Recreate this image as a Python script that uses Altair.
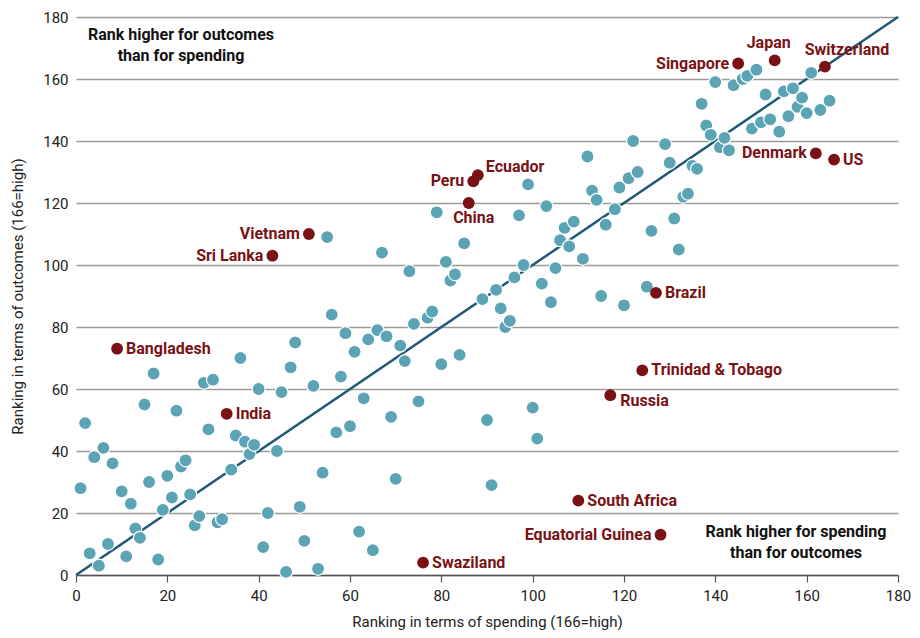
import altair as alt
import pandas as pd

# Teal points: (spending rank, outcomes rank)
teal_x = [1, 2, 3, 4, 5, 6, 7, 8, 10, 11, 12, 13, 14, 15, 16, 17, 18, 19, 20, 21, 22, 23, 24, 25, 26, 27, 28, 29, 30, 31, 32,
          34, 35, 36, 37, 38, 39, 40, 41, 42, 44, 45, 46, 47, 48, 49, 50, 52, 53, 54, 55, 56, 57, 58, 59, 60, 61, 62, 63, 64,
          65, 66, 67, 68, 69, 70, 71, 72, 73, 74, 75, 77, 78, 79, 80, 81, 82, 83, 84, 85, 89, 90, 91, 92, 93, 94, 95, 96, 97,
          98, 99, 100, 101, 102, 103, 104, 105, 106, 107, 108, 109, 111, 112, 113, 114, 115, 116, 118, 119, 120, 121, 122,
          123, 125, 126, 129, 130, 131, 132, 133, 134, 135, 136, 137, 138, 139, 140, 141, 142, 143, 144, 146, 147, 148, 149,
          150, 151, 152, 154, 155, 156, 157, 158, 159, 160, 161, 163, 165]
teal_y = [28, 49, 7, 38, 3, 41, 10, 36, 27, 6, 23, 15, 12, 55, 30, 65, 5, 21, 32, 25, 53, 35, 37, 26, 16, 19, 62, 47, 63, 17, 18,
          34, 45, 70, 43, 39, 42, 60, 9, 20, 40, 59, 1, 67, 75, 22, 11, 61, 2, 33, 109, 84, 46, 64, 78, 48, 72, 14, 57, 76,
          8, 79, 104, 77, 51, 31, 74, 69, 98, 81, 56, 83, 85, 117, 68, 101, 95, 97, 71, 107, 89, 50, 29, 92, 86, 80, 82, 96, 116,
          100, 126, 54, 44, 94, 119, 88, 99, 108, 112, 106, 114, 102, 135, 124, 121, 90, 113, 118, 125, 87, 128, 140,
          130, 93, 111, 139, 133, 115, 105, 122, 123, 132, 131, 152, 145, 142, 159, 138, 141, 137, 158, 160, 161, 144, 163,
          146, 155, 147, 143, 156, 148, 157, 151, 154, 149, 162, 150, 153]

# Highlighted countries
red_names = ["Bangladesh", "India", "Sri Lanka", "Vietnam", "Peru", "Ecuador", "China", "Swaziland", "South Africa",
             "Equatorial Guinea", "Russia", "Trinidad & Tobago", "Brazil", "Singapore", "Japan", "Switzerland",
             "Denmark", "US"]
red_x = [9, 33, 43, 51, 87, 88, 86, 76, 110, 128, 117, 124, 127, 145, 153, 164, 162, 166]
red_y = [73, 52, 103, 110, 127, 129, 120, 4, 24, 13, 58, 66, 91, 165, 166, 164, 136, 134]

diag_x = [0, 180]
diag_y = [0, 180]
ticks = [0, 20, 40, 60, 80, 100, 120, 140, 160, 180]

ann_top = ["Rank higher for outcomes", "than for spending"]
ann_bottom = ["Rank higher for spending", "than for outcomes"]

FONT = "Roboto, sans-serif"
TEAL = "#5ba4b5"
RED = "#7a1114"
LINE = "#1d5a78"

teal_df = pd.DataFrame({"x": teal_x, "y": teal_y})
red_df = pd.DataFrame({"name": red_names, "x": red_x, "y": red_y})
diag_df = pd.DataFrame({"x": [diag_x[0]], "y": [diag_y[0]], "x2": [diag_x[1]], "y2": [diag_y[1]]})
one_df = pd.DataFrame({"k": [0]})

xs = alt.Scale(domain=[0, 180], nice=False)
ys = alt.Scale(domain=[0, 180], nice=False)

x_axis = alt.Axis(values=ticks, grid=False, domain=True, domainColor="#555555", domainWidth=1.5,
                  ticks=True, tickSize=7, tickColor="#555555", tickWidth=1.2, labelFont=FONT, labelFontSize=15,
                  labelColor="#222222", labelPadding=6, labelFlush=False,
                  title="Ranking in terms of spending (166=high)",
                  titleFont=FONT, titleFontSize=15, titleFontWeight="normal", titleColor="#222222", titlePadding=11)
y_axis = alt.Axis(values=ticks, grid=True, gridColor="#9a9a9a", gridWidth=1.5, domain=False, ticks=False,
                  labelFont=FONT, labelFontSize=15, labelColor="#222222", labelPadding=8, labelFlush=False,
                  title="Ranking in terms of outcomes (166=high)", titleFont=FONT, titleFontSize=15,
                  titleFontWeight="normal", titleColor="#222222", titlePadding=17)

base_axes = alt.Chart(teal_df).mark_point(opacity=0).encode(
    x=alt.X("x:Q", scale=xs, axis=x_axis),
    y=alt.Y("y:Q", scale=ys, axis=y_axis),
)

diag = alt.Chart(diag_df).mark_rule(color=LINE, strokeWidth=2.5).encode(
    x=alt.X("x:Q", scale=xs), y=alt.Y("y:Q", scale=ys), x2="x2:Q", y2="y2:Q"
)

teal = alt.Chart(teal_df).mark_circle(size=170, color=TEAL, opacity=1, stroke="white", strokeWidth=1.2).encode(
    x=alt.X("x:Q", scale=xs), y=alt.Y("y:Q", scale=ys)
)

red = alt.Chart(red_df).mark_circle(size=140, color=RED, opacity=1).encode(
    x=alt.X("x:Q", scale=xs), y=alt.Y("y:Q", scale=ys)
)


def labels(names, **kw):
    return alt.Chart(red_df).transform_filter(
        alt.FieldOneOfPredicate(field="name", oneOf=names)
    ).mark_text(font=FONT, fontSize=16, fontWeight="bold", color=RED, baseline="middle", **kw).encode(
        x=alt.X("x:Q", scale=xs), y=alt.Y("y:Q", scale=ys), text="name:N"
    )


lab_right = labels(["Bangladesh", "India", "Brazil", "Trinidad & Tobago", "South Africa", "Swaziland", "US"],
                   align="left", dx=9)
lab_russia = labels(["Russia"], align="left", dx=10, dy=6)
lab_ecuador = labels(["Ecuador"], align="left", dx=8, dy=-8)
lab_left = labels(["Sri Lanka", "Vietnam", "Peru", "Singapore", "Denmark", "Equatorial Guinea"],
                  align="right", dx=-9)
lab_above = labels(["Japan"], align="center", dx=-6, dy=-17)
lab_swiss = labels(["Switzerland"], align="center", dx=22, dy=-17)
lab_below = labels(["China"], align="center", dx=5, dy=15)

ann1 = alt.Chart(one_df).mark_text(
    text=ann_top, font=FONT, fontSize=16, fontWeight="bold",
    color="#111111", align="center", baseline="middle", lineHeight=21
).encode(x=alt.value(105), y=alt.value(18))

ann2 = alt.Chart(one_df).mark_text(
    text=ann_bottom, font=FONT, fontSize=16, fontWeight="bold",
    color="#111111", align="center", baseline="middle", lineHeight=21
).encode(x=alt.value(720), y=alt.value(515))

chart = alt.layer(
    base_axes, diag, teal, red, lab_right, lab_russia, lab_ecuador, lab_left, lab_above, lab_swiss, lab_below,
    ann1, ann2
).properties(
    width=822, height=558,
    autosize=alt.AutoSizeParams(type="none"),
    padding={"left": 68, "top": 9, "right": 14, "bottom": 55},
    background="white",
).configure_view(stroke=None)

chart.save("out.html", embed_options={"renderer": "svg", "actions": False})
